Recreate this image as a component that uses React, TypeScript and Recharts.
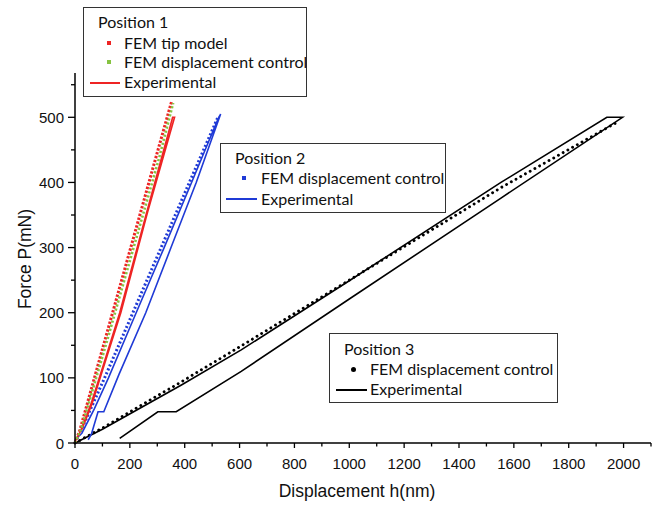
import React from "react";
import { LineChart, Line, XAxis, YAxis } from "recharts";

type Pt = [number, number];

// displacement h (nm), force P (mN)
const pos1TipModel: Pt[] = [[0, 0], [18, 20], [100, 144], [200, 295], [300, 446], [352, 524]];
const pos1DispControl: Pt[] = [[0, 0], [22, 21], [106, 141], [207, 290], [307, 438], [358, 522]];
const pos1Experimental: Pt[] = [
  [0, 2], [20, 18], [60, 62], [100, 115], [163, 200], [260, 352], [356, 500],
  [363, 500], [265, 355], [167, 200], [103, 115], [62, 60], [24, 20],
];

const pos2DispControl: Pt[] = [[0, 0], [20, 18], [60, 55], [110, 102], [211, 200], [314, 300], [417, 400], [521, 500]];
const pos2Experimental: Pt[] = [
  [0, 5], [25, 15], [70, 52], [122, 100], [223, 200], [325, 300], [425, 400], [524, 500],
  [531, 505], [442, 400], [350, 300], [258, 200], [160, 105], [105, 48], [84, 48], [60, 14], [48, 5],
];

const pos3DispControl: Pt[] = [[0, 0], [100, 23], [388, 94], [606, 149], [1000, 250], [1553, 392], [1983, 494]];
const pos3Experimental: Pt[] = [
  [0, 0], [100, 21], [388, 89], [606, 143], [1000, 249], [1553, 400], [1939, 500],
  [1996, 500], [1553, 376], [1000, 221], [606, 110], [369, 48], [302, 48], [163, 7],
];

const xTicks = Array.from({ length: 22 }, (_, i) => i * 100);
const yTicks = Array.from({ length: 12 }, (_, i) => i * 50);

const toRows = (pts: Pt[]) => pts.map(([h, p]) => ({ h, p }));

const RED = "#ee2424";
const GREEN = "#86c341";
const BLUE = "#1f3ad6";
const BLACK = "#000";

const axisFont = "'Liberation Sans', Arial, sans-serif";
const legendFont = "Lato, 'Open Sans', sans-serif";

const XTick = (props: any) => {
  const { x, y, payload } = props;
  const major = payload.value % 200 === 0;
  return (
    <g>
      <line x1={x} y1={y} x2={x} y2={y + (major ? 5 : 3.5)} stroke="#000" strokeWidth={1.3} />
      {major && (
        <text x={x} y={y + 20} textAnchor="middle" dominantBaseline="central" fontSize={15} fontFamily={axisFont} fill="#111">
          {payload.value}
        </text>
      )}
    </g>
  );
};

const YTick = (props: any) => {
  const { x, y, payload } = props;
  const major = payload.value % 100 === 0;
  return (
    <g>
      <line x1={x} y1={y} x2={x - (major ? 7 : 4)} y2={y} stroke="#000" strokeWidth={1.3} />
      {major && (
        <text x={x - 11} y={y} textAnchor="end" dominantBaseline="central" fontSize={15} fontFamily={axisFont} fill="#111">
          {payload.value}
        </text>
      )}
    </g>
  );
};

const txt = (left: number, cy: number, s: string) => (
  <div style={{ position: "absolute", left, top: cy - 10, height: 20, lineHeight: "20px", whiteSpace: "nowrap" }}>{s}</div>
);

export default function App() {
  return (
    <div style={{ position: "absolute", left: 0, top: 0, width: 659, height: 505, background: "#fff" }}>
      <LineChart width={659} height={505} margin={{ top: 73, right: 8, left: 15, bottom: 22 }}>
        <XAxis
          type="number"
          dataKey="h"
          domain={[0, 2100]}
          ticks={xTicks}
          interval={0}
          tickSize={0}
          tickMargin={0}
          tickLine={false}
          tick={<XTick />}
          height={40}
          axisLine={{ stroke: "#000", strokeWidth: 1.5 }}
        />
        <YAxis
          type="number"
          dataKey="p"
          domain={[0, 568]}
          ticks={yTicks}
          interval={0}
          tickSize={0}
          tickMargin={0}
          tickLine={false}
          tick={<YTick />}
          width={60}
          axisLine={{ stroke: "#000", strokeWidth: 1.5 }}
        />
        <Line data={toRows(pos3Experimental)} dataKey="p" stroke={BLACK} strokeWidth={1.6} dot={false} isAnimationActive={false} />
        <Line data={toRows(pos3DispControl)} dataKey="p" stroke={BLACK} strokeWidth={2.9} strokeDasharray="0.01 5.4" strokeLinecap="round" dot={false} isAnimationActive={false} />
        <Line data={toRows(pos2Experimental)} dataKey="p" stroke={BLUE} strokeWidth={1.6} dot={false} isAnimationActive={false} />
        <Line data={toRows(pos2DispControl)} dataKey="p" stroke={BLUE} strokeWidth={3} strokeDasharray="2 2.2" dot={false} isAnimationActive={false} />
        <Line data={toRows(pos1Experimental)} dataKey="p" stroke={RED} strokeWidth={1.6} dot={false} isAnimationActive={false} />
        <Line data={toRows(pos1TipModel)} dataKey="p" stroke={RED} strokeWidth={3} strokeDasharray="2.4 1.6" dot={false} isAnimationActive={false} />
        <Line data={toRows(pos1DispControl)} dataKey="p" stroke={GREEN} strokeWidth={2.6} strokeDasharray="2.2 2" dot={false} isAnimationActive={false} />
      </LineChart>

      {/* axis titles */}
      <div style={{ position: "absolute", left: 25 - 60, top: 259 - 11, width: 120, height: 22, lineHeight: "22px", textAlign: "center", transform: "rotate(-90deg)", fontFamily: axisFont, fontSize: 17.5, color: "#111" }}>
        Force P(mN)
      </div>
      <div style={{ position: "absolute", left: 357 - 100, top: 491 - 11, width: 200, height: 22, lineHeight: "22px", textAlign: "center", fontFamily: axisFont, fontSize: 17.5, color: "#111" }}>
        Displacement h(nm)
      </div>

      {/* legend: position 1 */}
      <div style={{ position: "absolute", left: 83, top: 7, width: 222, height: 88, border: "1px solid #333", background: "#fff", fontFamily: legendFont, fontSize: 16, color: "#111" }}>
        {txt(14, 14, "Position 1")}
        <div style={{ position: "absolute", left: 23, top: 33, width: 4, height: 4, background: RED }} />
        {txt(40, 35, "FEM tip model")}
        <div style={{ position: "absolute", left: 23, top: 52, width: 4, height: 4, background: GREEN }} />
        {txt(40, 54, "FEM displacement control")}
        <div style={{ position: "absolute", left: 6, top: 74, width: 30, height: 2, background: RED }} />
        {txt(40, 74, "Experimental")}
      </div>

      {/* legend: position 2 */}
      <div style={{ position: "absolute", left: 220, top: 143, width: 224, height: 68, border: "1px solid #333", background: "#fff", fontFamily: legendFont, fontSize: 16, color: "#111" }}>
        {txt(14, 14, "Position 2")}
        <div style={{ position: "absolute", left: 21, top: 32, width: 4, height: 4, background: BLUE }} />
        {txt(40, 34, "FEM displacement control")}
        <div style={{ position: "absolute", left: 5, top: 54, width: 31, height: 2, background: BLUE }} />
        {txt(40, 55, "Experimental")}
      </div>

      {/* legend: position 3 */}
      <div style={{ position: "absolute", left: 329, top: 333, width: 227, height: 68, border: "1px solid #333", background: "#fff", fontFamily: legendFont, fontSize: 16, color: "#111" }}>
        {txt(14, 15, "Position 3")}
        <div style={{ position: "absolute", left: 21, top: 33, width: 5, height: 5, borderRadius: 3, background: BLACK }} />
        {txt(40, 35, "FEM displacement control")}
        <div style={{ position: "absolute", left: 6, top: 55, width: 31, height: 1.5, background: BLACK }} />
        {txt(40, 55, "Experimental")}
      </div>
    </div>
  );
}
